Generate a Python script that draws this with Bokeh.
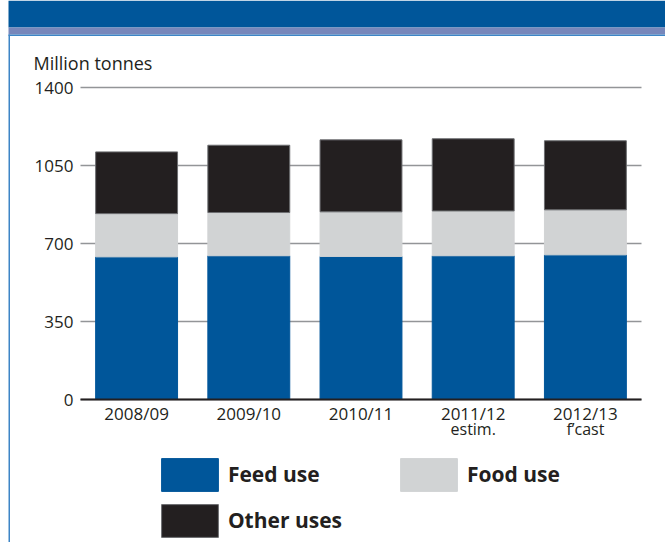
from bokeh.plotting import figure
from bokeh.models import (Range1d, FixedTicker, Legend, LegendItem,
                          LabelSet, Label, BoxAnnotation, ColumnDataSource)
from bokeh.core.properties import value
from bokeh.embed import file_html
from bokeh.resources import INLINE

# ---- data ----
categories = ["2008/09", "2009/10", "2010/11", "2011/12", "2012/13"]
sub_labels = ["", "", "", "estim.", "f\u2019cast"]
feed_use = [640, 645, 642, 645, 649]
food_use = [194, 194, 200, 201, 202]
other_uses = [277, 302, 323, 324, 310]
y_ticks = [0, 350, 700, 1050, 1400]
series = ["Feed use", "Food use", "Other uses"]
colors = ["#00569a", "#d1d3d4", "#231f20"]
edge_colors = ["#00569a", "#d1d3d4", "#6d6e71"]

FONT = "Open Sans"
TEXT = "#231f20"
HEADER = "#00569a"
STRIP = "#7787bb"
BORDER = "#3d85c6"

W, H = 665, 542
# plot area (canvas px): categories span x 80..641, values 0..1400 span y 399..87
PX_X = (641 - 80) / len(categories)
PX_Y = (399 - 87) / 1400.0
x_start = -0.5 - 80 / PX_X
x_end = x_start + W / PX_X
y_start = -(H - 399) / PX_Y
y_end = 399 / PX_Y

idx = list(range(len(categories)))
src = ColumnDataSource(dict(idx=idx, feed=feed_use, food=food_use, other=other_uses))

p = figure(width=W, height=H, x_range=Range1d(x_start, x_end), y_range=Range1d(y_start, y_end),
           output_backend="svg", toolbar_location=None, title=None,
           min_border_left=0, min_border_right=0, min_border_top=0, min_border_bottom=0)
p.outline_line_color = None
p.background_fill_color = "white"
p.border_fill_color = "white"
p.xgrid.visible = False
p.ygrid.visible = False

# horizontal reference lines behind bars (span of the category area)
p.segment(x0=[-0.5] * len(y_ticks), x1=[len(categories) - 0.5] * len(y_ticks),
          y0=y_ticks, y1=y_ticks, line_color="#939598", line_width=1.5, level="underlay")

rs = p.vbar_stack(["feed", "food", "other"], x="idx", width=0.73, source=src,
                  fill_color=colors, line_color=edge_colors, line_width=1)

# y axis (fixed at left edge of category area)
yax = p.yaxis[0]
yax.fixed_location = -0.5
yax.ticker = FixedTicker(ticks=y_ticks)
yax.axis_line_color = None
yax.major_tick_line_color = None
yax.minor_tick_line_color = None
yax.major_tick_out = 0
yax.major_tick_in = 0
yax.minor_tick_out = 0
yax.major_label_standoff = 7
yax.major_label_text_font = FONT
yax.major_label_text_font_size = "17px"
yax.major_label_text_color = TEXT

# x axis (fixed at zero)
xax = p.xaxis[0]
xax.fixed_location = 0
xax.bounds = (-0.5, len(categories) - 0.5)
xax.ticker = FixedTicker(ticks=idx)
xax.major_label_overrides = {i: c for i, c in zip(idx, categories)}
xax.axis_line_color = TEXT
xax.axis_line_width = 2
xax.major_tick_line_color = None
xax.minor_tick_line_color = None
xax.major_tick_out = 0
xax.major_tick_in = 0
xax.minor_tick_out = 0
xax.major_label_standoff = 2
xax.major_label_text_font = FONT
xax.major_label_text_font_size = "17px"
xax.major_label_text_color = TEXT

# sub labels under categories
sub_src = ColumnDataSource(dict(idx=idx, sub=sub_labels))
p.add_layout(LabelSet(x="idx", y=H - 434.5, y_units="screen", text="sub", source=sub_src,
                      text_align="center", text_baseline="alphabetic",
                      text_font=value(FONT), text_font_size=value("16px"),
                      text_color=TEXT))

# unit label
p.add_layout(Label(x=33, y=H - 62, x_units="screen", y_units="screen",
                   text="Million tonnes", text_baseline="alphabetic",
                   text_font=FONT, text_font_size="18px", text_color=TEXT))

# header decoration (canvas px, top-left origin)
def cbox(x0, x1, y0, y1, color):
    return BoxAnnotation(left=x0, right=x1, top=H - y0, bottom=H - y1,
                         left_units="screen", right_units="screen",
                         top_units="screen", bottom_units="screen",
                         fill_color=color, fill_alpha=1, line_alpha=0)

p.add_layout(cbox(8, 665, 0, 27, HEADER))
p.add_layout(cbox(8, 665, 27, 34, STRIP))
p.add_layout(cbox(8, 665, 34, 35.5, BORDER))
p.add_layout(cbox(8, 9.5, 34, 542, BORDER))

# legends
def make_legend(items, x, y):
    return Legend(items=items, orientation="horizontal", location=(x, y),
                  glyph_width=71, glyph_height=41, label_standoff=3, label_width=95,
                  label_height=41, spacing=70, padding=0, margin=0,
                  border_line_color=None, background_fill_alpha=0,
                  label_text_font=FONT, label_text_font_style="bold",
                  label_text_font_size="21px", label_text_color=TEXT)

leg1 = make_legend([LegendItem(label=series[0], renderers=[rs[0]]),
                    LegendItem(label=series[1], renderers=[rs[1]])],
                   153.9, H - 494.9)
leg2 = make_legend([LegendItem(label=series[2], renderers=[rs[2]])],
                   153.9, H - 540.9)
p.add_layout(leg1)
p.add_layout(leg2)

open("out.html", "w").write(file_html(p, INLINE))
